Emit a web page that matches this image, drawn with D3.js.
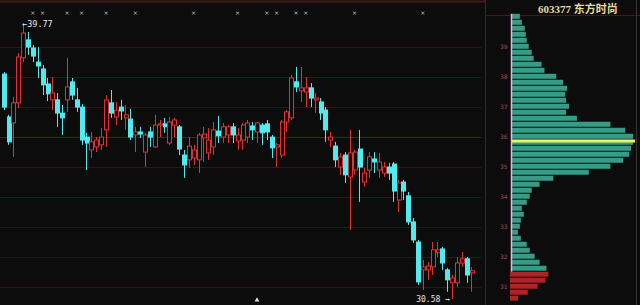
<!DOCTYPE html>
<html>
<head>
<meta charset="utf-8">
<script src="https://cdn.jsdelivr.net/npm/d3@7"></script>
<style>
html, body { margin: 0; padding: 0; background: #0c0c0c; overflow: hidden; }
svg { display: block; }
</style>
</head>
<body>
<script>
var width = 640,
    height = 305;

// daily candles
var opens = [38.09, 36.66, 36.46, 37.13, 38.63, 39.23, 38.96, 38.49, 38.26, 37.76,
  37.23, 37.23, 36.79, 37.23, 37.83, 37.23, 36.99, 35.99, 35.56, 35.66,
  35.73, 36.23, 37.13, 36.66, 36.99, 36.63, 36.59, 36.06, 36.16, 35.49,
  36.16, 35.66, 36.39, 36.43, 35.79, 36.39, 36.33, 35.39, 35.23, 35.29,
  35.23, 35.96, 35.46, 35.66, 36.19, 35.99, 36.06, 36.33, 35.86, 35.89,
  35.99, 36.36, 36.16, 36.39, 36.43, 35.99, 35.66, 35.39, 36.49, 36.63,
  37.83, 37.53, 37.49, 37.63, 37.23, 37.16, 36.89, 35.89, 35.69, 34.99,
  35.39, 34.66, 34.89, 35.59, 34.49, 34.89, 35.26, 34.89, 34.79, 34.99,
  35.09, 33.89, 34.49, 34.03, 33.16, 32.49, 31.56, 31.56, 31.66, 32.13,
  32.26, 31.56, 31.13, 31.13, 31.79, 31.93, 31.46];

var highs = [38.16, 36.73, 37.33, 38.79, 39.77, 39.49, 39.06, 38.99, 38.39, 37.96,
  37.99, 37.46, 37.06, 38.63, 37.96, 37.63, 37.09, 36.13, 36.16, 35.99,
  36.29, 37.39, 37.56, 37.16, 37.23, 37.06, 36.93, 36.33, 36.33, 36.13,
  36.33, 36.73, 36.56, 36.63, 36.66, 36.63, 36.39, 35.56, 35.99, 35.73,
  36.13, 36.33, 36.29, 36.49, 36.69, 36.46, 36.39, 36.46, 36.29, 36.46,
  36.56, 36.49, 36.49, 36.46, 36.56, 36.06, 35.79, 36.56, 36.89, 38.06,
  38.33, 38.33, 37.99, 37.79, 37.46, 37.29, 36.99, 36.16, 35.83, 35.46,
  35.49, 36.23, 35.56, 36.23, 34.96, 35.49, 35.49, 35.46, 35.16, 35.13,
  35.16, 34.56, 34.56, 34.16, 33.29, 32.56, 31.89, 31.83, 32.49, 32.49,
  32.33, 31.63, 31.39, 31.99, 32.16, 31.99, 31.66];

var lows = [36.89, 35.73, 35.33, 36.96, 38.49, 38.73, 38.49, 37.96, 37.39, 37.19,
  36.89, 36.33, 36.06, 36.83, 37.23, 36.83, 35.73, 34.89, 35.29, 35.49,
  35.56, 35.66, 36.63, 36.39, 36.56, 36.23, 35.89, 35.49, 35.96, 34.99,
  35.66, 35.63, 35.99, 36.13, 35.73, 35.99, 35.39, 34.63, 34.96, 35.06,
  34.79, 35.16, 35.23, 35.39, 35.79, 35.79, 35.79, 35.79, 35.56, 35.56,
  35.79, 35.89, 35.79, 35.73, 35.89, 35.29, 34.99, 35.29, 36.16, 36.56,
  37.49, 37.16, 36.99, 36.99, 36.79, 36.56, 35.83, 35.66, 34.99, 34.73,
  34.46, 32.89, 34.73, 33.83, 34.33, 34.63, 34.79, 34.63, 34.66, 34.56,
  33.83, 33.49, 33.89, 33.06, 32.46, 31.06, 30.89, 31.23, 31.39, 31.99,
  31.56, 30.83, 30.58, 30.99, 31.66, 31.13, 30.83];

var closes = [36.99, 35.83, 37.13, 38.66, 39.46, 38.99, 38.69, 38.36, 37.73, 37.43,
  37.46, 36.79, 36.63, 37.66, 37.39, 36.99, 35.89, 35.79, 35.83, 35.89,
  35.99, 37.23, 36.79, 36.89, 36.86, 36.73, 35.99, 36.16, 36.09, 36.06,
  35.99, 36.39, 36.43, 36.33, 36.49, 36.56, 35.59, 35.06, 35.69, 35.56,
  36.06, 36.09, 35.89, 36.23, 36.03, 36.33, 36.33, 36.06, 36.06, 36.39,
  36.46, 36.23, 36.46, 36.13, 36.16, 35.63, 35.73, 36.49, 36.83, 37.96,
  37.66, 37.63, 37.63, 37.29, 37.29, 36.79, 36.23, 35.99, 35.23, 35.33,
  34.73, 35.46, 35.49, 34.99, 34.79, 35.33, 35.16, 35.16, 34.99, 34.79,
  34.19, 34.46, 34.19, 33.16, 32.56, 31.16, 31.66, 31.69, 32.23, 32.23,
  31.79, 31.23, 31.29, 31.79, 31.93, 31.39, 31.53];

// event markers along the top (candle index)
var markerDays = [6, 8, 13, 16, 21, 27, 39, 48, 54, 56, 60, 62, 72, 86];
var arrowDay = 52;

// price axis
var priceTicks = [31, 32, 33, 34, 35, 36, 37, 38, 39];

// chip distribution
var chipPrices = [30.6, 30.8, 31.0, 31.2, 31.4, 31.6, 31.8, 32.0, 32.2, 32.4,
  32.6, 32.8, 33.0, 33.2, 33.4, 33.6, 33.8, 34.0, 34.2, 34.4,
  34.6, 34.8, 35.0, 35.2, 35.4, 35.6, 35.8, 36.0, 36.2, 36.4,
  36.6, 36.8, 37.0, 37.2, 37.4, 37.6, 37.8, 38.0, 38.2, 38.4,
  38.6, 38.8, 39.0, 39.2, 39.4, 39.6, 39.8, 40.0];
var chipVolumes = [6, 16, 26, 34, 37, 35, 28, 23, 18, 15,
  9, 6, 8, 9, 12, 10, 15, 18, 20, 28,
  42, 78, 100, 113, 119, 121, 123, 123, 115, 100,
  66, 55, 58, 55, 54, 56, 52, 45, 33, 30,
  22, 20, 17, 15, 14, 13, 10, 8];
var avgCost = 35.86;

var code = "603377",
    name = "东方时尚";

var n = closes.length,
    upColor = "#e03232",
    downColor = "#52eaee",
    gridColor = "#3a1414";

var svg = d3.select("body").append("svg")
    .attr("width", width)
    .attr("height", height)
    .style("background", "#0c0c0c");

var x = d3.scaleBand()
    .domain(d3.range(n))
    .range([0.5, 474.5])
    .padding(0.25);

var y = d3.scaleLinear()
    .domain([30.39, 40.56])
    .range([305, 0]);

// frame
svg.append("line")
    .attr("x1", 0).attr("x2", 486).attr("y1", 1.5).attr("y2", 1.5)
    .attr("stroke", "#4a1616").attr("stroke-width", 2);
svg.append("line")
    .attr("x1", 486).attr("x2", 640).attr("y1", 15.5).attr("y2", 15.5)
    .attr("stroke", "#4a1616");
svg.append("line")
    .attr("x1", 485.5).attr("x2", 485.5).attr("y1", 0).attr("y2", height)
    .attr("stroke", "#5a1a1a");
svg.append("line")
    .attr("x1", 636.5).attr("x2", 636.5).attr("y1", 0).attr("y2", height)
    .attr("stroke", "#3a3434");

// grid
svg.append("g").selectAll("line")
    .data(priceTicks)
  .enter().append("line")
    .attr("x1", 0).attr("x2", 481)
    .attr("y1", function(d) { return Math.round(y(d)) + 0.5; })
    .attr("y2", function(d) { return Math.round(y(d)) + 0.5; })
    .attr("stroke", function(d) { return d === 36 ? "#5a1818" : gridColor; });

// candles
var candle = svg.append("g").selectAll("g")
    .data(d3.range(n))
  .enter().append("g");

candle.append("line")
    .attr("x1", function(i) { return Math.round(x(i) + x.bandwidth() / 2) + 0.5; })
    .attr("x2", function(i) { return Math.round(x(i) + x.bandwidth() / 2) + 0.5; })
    .attr("y1", function(i) { return y(highs[i]); })
    .attr("y2", function(i) { return y(lows[i]); })
    .attr("stroke", function(i) { return closes[i] >= opens[i] ? upColor : downColor; })
    .attr("stroke-width", 1);

candle.append("rect")
    .attr("x", function(i) { return Math.round(x(i)) + 0.5; })
    .attr("width", Math.round(x.bandwidth()))
    .attr("y", function(i) { return y(Math.max(opens[i], closes[i])); })
    .attr("height", function(i) { return Math.max(1, Math.abs(y(opens[i]) - y(closes[i]))); })
    .attr("fill", function(i) { return closes[i] >= opens[i] ? "#0c0c0c" : downColor; })
    .attr("stroke", function(i) { return closes[i] >= opens[i] ? upColor : downColor; })
    .attr("stroke-width", 1);

// top markers
svg.append("g").selectAll("text")
    .data(markerDays)
  .enter().append("text")
    .attr("x", function(i) { return x(i) + x.bandwidth() / 2; })
    .attr("y", 15)
    .attr("text-anchor", "middle")
    .attr("font-family", "DejaVu Sans")
    .attr("font-size", 6)
    .attr("fill", "#c8c8c8")
    .text("×");

svg.append("path")
    .attr("d", d3.symbol(d3.symbolTriangle, 10))
    .attr("transform", "translate(" + (x(arrowDay) + x.bandwidth() / 2) + ",300)")
    .attr("fill", "#e0e0e0");

// high / low labels
var hiIdx = d3.maxIndex(highs),
    loIdx = d3.minIndex(lows);

svg.append("text")
    .attr("x", x(hiIdx) + x.bandwidth() / 2 - 1)
    .attr("y", y(highs[hiIdx]) + 3)
    .attr("font-family", "DejaVu Sans Mono")
    .attr("font-size", 8.5)
    .attr("fill", "#e6e6e6")
    .text("←" + d3.format(".2f")(highs[hiIdx]));

svg.append("text")
    .attr("x", x(loIdx) + x.bandwidth() / 2 - 2)
    .attr("y", 302)
    .attr("text-anchor", "end")
    .attr("font-family", "DejaVu Sans Mono")
    .attr("font-size", 8)
    .attr("fill", "#e6e6e6")
    .text(d3.format(".2f")(lows[loIdx]) + " →");

// price axis
var axis = svg.append("g")
    .attr("transform", "translate(497,0)")
    .call(d3.axisRight(y).tickValues(priceTicks).tickSize(0).tickFormat(d3.format("d")));
axis.select(".domain").remove();
axis.selectAll("text")
    .attr("font-family", "DejaVu Sans")
    .attr("font-size", 6)
    .attr("fill", "#b04848");

// chip distribution
var cx = d3.scaleLinear()
    .domain([0, 125])
    .range([0, 123]);

var current = closes[n - 1],
    step = y(chipPrices[0]) - y(chipPrices[1]);

svg.append("g").selectAll("rect")
    .data(chipPrices)
  .enter().append("rect")
    .attr("x", function(d) { return d < current ? 510 : 512; })
    .attr("y", function(d) { return y(d) - step / 2; })
    .attr("width", function(d, i) { return cx(chipVolumes[i]) + (d < current ? 2 : 0); })
    .attr("height", step - 1)
    .attr("fill", function(d) { return d < current ? "#ad2424" : "#3a9a88"; });

svg.append("line")
    .attr("x1", 511.5).attr("x2", 511.5)
    .attr("y1", y(chipPrices[chipPrices.length - 1]) - step / 2)
    .attr("y2", y(d3.min(chipPrices.filter(function(d) { return d >= current; }))) + step / 2)
    .attr("stroke", "#e6b4e6")
    .attr("stroke-width", 1.5);

svg.append("line")
    .attr("x1", 512).attr("x2", 635)
    .attr("y1", y(avgCost)).attr("y2", y(avgCost))
    .attr("stroke", "#e4f466")
    .attr("stroke-width", 3);

svg.append("text")
    .attr("x", 538)
    .attr("y", 13)
    .attr("font-family", "Liberation Serif, Noto Sans CJK SC")
    .attr("font-weight", "bold")
    .attr("font-size", 11)
    .attr("fill", "#e4dc9c")
    .text(code + " " + name);
</script>
</body>
</html>
